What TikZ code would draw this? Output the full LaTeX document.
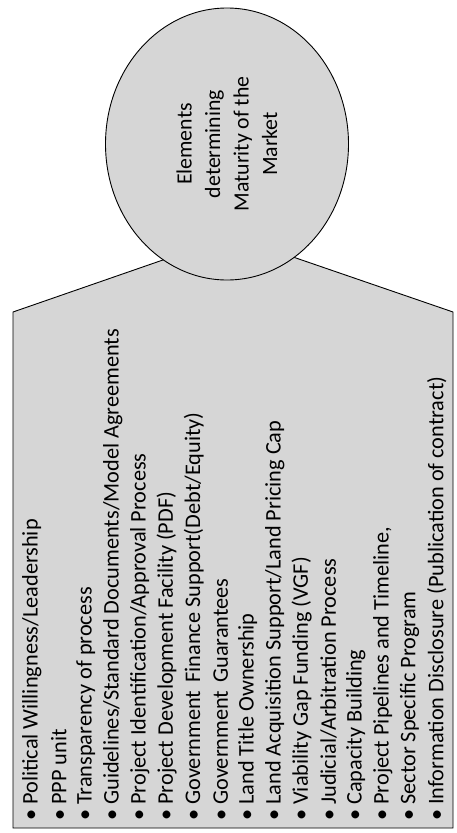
\documentclass[tikz,border=0pt]{standalone}
\usepackage{fontspec}
\setmainfont{Carlito}
\usetikzlibrary{shapes.geometric}
\begin{document}
\begin{tikzpicture}[x=1pt,y=-1pt,
  shapefill/.style={draw=black, line width=0.9pt, fill=black!16},
  item/.style={rotate=90, anchor=west, inner sep=0pt, font=\fontsize{22.3}{26}\selectfont}]
\useasboundingbox (0,0) rectangle (456,833);
\draw[shapefill] (13,828) -- (13,312) -- (232,236) -- (453,312) -- (453,828) -- cycle;
\node[shapefill, ellipse, minimum width=243pt, minimum height=272pt, inner sep=0pt] (head) at (227,144) {};
\node[rotate=90, align=center, font=\fontsize{21.8}{28.5}\selectfont] (title) at (head.center) {Elements\\determining\\Maturity of the\\Market};
\foreach \t [count=\i from 0] in {
  Political Willingness/Leadership,
  PPP unit,
  Transparency of process,
  Guidelines/Standard Documents/Model Agreements,
  Project Identification/Approval Process,
  Project Development Facility (PDF),
  Government\hspace{3pt} Finance Support(Debt/Equity),
  Government\hspace{3pt} Guarantees,
  Land Title Ownership,
  Land Acquisition Support/Land Pricing Cap,
  Viability Gap Funding (VGF),
  Judicial/Arbitration Process,
  Capacity Building,
  {Project Pipelines and Timeline,},
  Sector Specific Program,
  Information Disclosure (Publication of contract)}
  \node[item] (it\i) at ({31.7+27*\i},821) {\textbullet\hspace{5pt}\t};
\end{tikzpicture}
\end{document}
